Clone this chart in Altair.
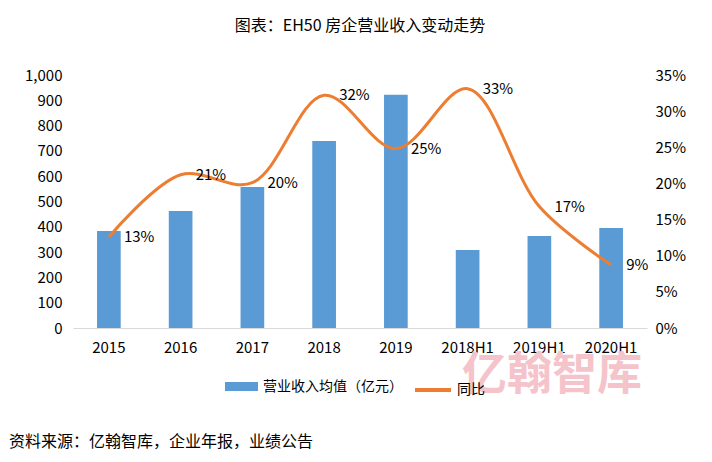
import altair as alt
import pandas as pd

categories = ['2015', '2016', '2017', '2018', '2019', '2018H1', '2019H1', '2020H1']
revenue = [383, 462, 557, 739, 922, 308, 364, 395]
yoy = [0.126, 0.212, 0.201, 0.322, 0.248, 0.331, 0.168, 0.087]
yoy_labels = ['13%', '21%', '20%', '32%', '25%', '33%', '17%', '9%']
left_ticks = list(range(0, 1001, 100))
right_ticks = [0, 0.05, 0.10, 0.15, 0.20, 0.25, 0.30, 0.35]
bar_name = '营业收入均值（亿元）'
line_name = '同比'
title_text = '图表：EH50 房企营业收入变动走势'
source_text = '资料来源：亿翰智库，企业年报，业绩公告'
watermark_text = '亿翰智库'

FONT = 'Noto Sans CJK SC'
BLUE = '#5B9BD5'
ORANGE = '#ED7D31'

df = pd.DataFrame({
    'cat': categories, 'rev': revenue, 'yoy': yoy, 'lab': yoy_labels,
    'bs': [bar_name] * len(categories), 'ls': [line_name] * len(categories),
})

xenc = alt.X('cat:N', sort=categories,
             scale=alt.Scale(paddingInner=0.67, paddingOuter=0.335),
             axis=alt.Axis(title=None, labelAngle=0, labelPadding=12,
                           domainColor='#D9D9D9', domainWidth=1, ticks=False))

bars = alt.Chart(df).mark_bar().encode(
    x=xenc,
    y=alt.Y('rev:Q', scale=alt.Scale(domain=[0, 1000], nice=False),
            axis=alt.Axis(values=left_ticks, format=',.0f', title=None, domain=False,
                          ticks=False, grid=False, labelPadding=11)),
    fill=alt.Fill('bs:N', scale=alt.Scale(domain=[bar_name], range=[BLUE]),
                  legend=alt.Legend(title=None, orient='none', legendX=152, legendY=295,
                                    symbolType='M-1,-0.27L1,-0.27L1,0.27L-1,0.27Z',
                                    symbolSize=1089, symbolStrokeWidth=0, labelOffset=5)),
)

yr = alt.Y('yoy:Q', scale=alt.Scale(domain=[0, 0.35], nice=False),
           axis=alt.Axis(orient='right', values=right_ticks, format='.0%', title=None,
                         domain=False, ticks=False, grid=False, labelPadding=8))

line = alt.Chart(df).mark_line(strokeWidth=3, interpolate='catmull-rom').encode(
    x=xenc, y=yr,
    stroke=alt.Stroke('ls:N', scale=alt.Scale(domain=[line_name], range=[ORANGE]),
                      legend=alt.Legend(title=None, orient='none', legendX=340, legendY=295,
                                        symbolType='stroke', symbolSize=1296,
                                        symbolStrokeWidth=4, labelOffset=4)),
)

labels = alt.Chart(df).mark_text(align='left', baseline='middle', dx=15, fontSize=15,
                                 font=FONT, color='black').encode(
    x=xenc, y=yr, text='lab:N')

src = alt.Chart(pd.DataFrame({'t': [source_text]})).mark_text(
    align='left', baseline='middle', fontSize=16, font=FONT, color='black').encode(
    x=alt.value(-64), y=alt.value(367), text='t:N')

wm = alt.Chart(pd.DataFrame({'t': [watermark_text]})).mark_text(
    align='center', baseline='middle', fontSize=45, font=FONT, fontWeight='bold',
    color='#F5C4CA').encode(
    x=alt.value(479), y=alt.value(301), text='t:N')

chart = alt.layer(wm, bars, alt.layer(line, labels), src).resolve_scale(
    y='independent', fill='independent', stroke='independent'
).properties(
    width=574, height=253,
    padding={'left': 65, 'top': 67, 'right': 57, 'bottom': 126},
    autosize=alt.AutoSizeParams(type='none'),
    title=alt.TitleParams(title_text, font=FONT, fontSize=16, fontWeight='normal',
                          anchor='middle', offset=34, color='black'),
).configure_view(stroke=None).configure_axis(
    labelFont=FONT, labelFontSize=15, labelColor='black'
).configure_legend(
    labelFont=FONT, labelFontSize=14, labelColor='black', padding=0
)

chart.save('out.html', embed_options={'renderer': 'svg', 'actions': False})
